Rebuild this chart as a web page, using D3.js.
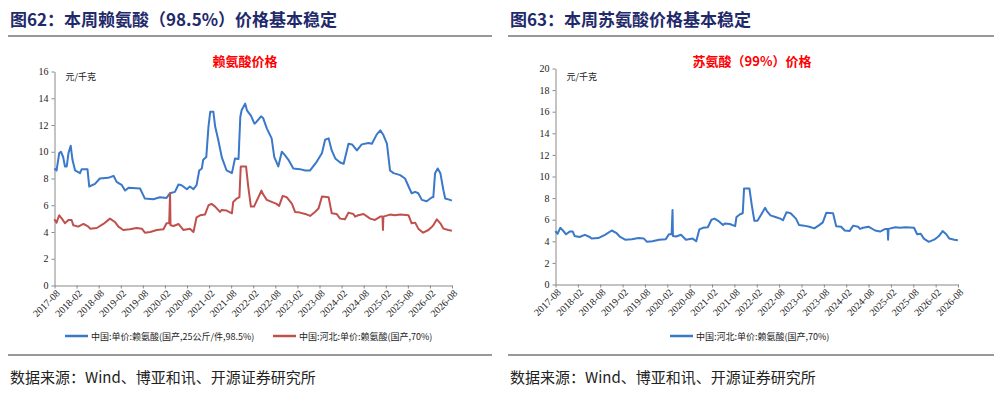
<!DOCTYPE html><html><head><meta charset="utf-8"><script src="https://cdn.jsdelivr.net/npm/d3@7"></script>
<style>body{margin:0;background:#fff}svg text{font-family:"Liberation Serif","Noto Sans CJK SC",serif}</style></head><body>
<svg id="c" width="1002" height="401"></svg>
<script>
const tickLabels=["2017-08","2018-02","2018-08","2019-02","2019-08","2020-02","2020-08","2021-02","2021-08","2022-02","2022-08","2023-02","2023-08","2024-02","2024-08","2025-02","2025-08","2026-02","2026-08"];
const lysineT=[2017.58,2017.63,2017.69,2017.73,2017.78,2017.82,2017.86,2017.90,2017.95,2017.99,2018.05,2018.16,2018.20,2018.33,2018.37,2018.50,2018.61,2018.80,2018.92,2018.99,2019.11,2019.18,2019.26,2019.52,2019.63,2019.82,2019.97,2020.12,2020.20,2020.31,2020.39,2020.46,2020.58,2020.65,2020.73,2020.80,2020.86,2020.92,2020.95,2021.02,2021.07,2021.11,2021.18,2021.22,2021.29,2021.37,2021.48,2021.60,2021.67,2021.75,2021.79,2021.82,2021.90,2021.94,2022.03,2022.11,2022.16,2022.26,2022.31,2022.39,2022.50,2022.56,2022.65,2022.73,2022.80,2022.88,2022.99,2023.14,2023.26,2023.37,2023.52,2023.64,2023.71,2023.79,2023.86,2023.94,2024.05,2024.13,2024.24,2024.32,2024.43,2024.54,2024.69,2024.77,2024.88,2024.96,2025.03,2025.11,2025.18,2025.26,2025.41,2025.52,2025.60,2025.67,2025.75,2025.82,2025.90,2026.01,2026.13,2026.16,2026.20,2026.26,2026.32,2026.39,2026.43,2026.54,2026.58];
const lysineV=[8.75,8.6,9.9,10.0,9.6,8.9,8.9,9.9,10.45,9.4,8.6,8.4,8.7,8.7,7.4,7.6,8.0,8.05,8.2,7.75,7.5,7.1,7.3,7.25,6.5,6.45,6.6,6.55,6.9,7.0,7.55,7.5,7.2,7.4,7.2,7.5,8.6,8.75,9.4,9.6,11.9,13.0,13.0,11.9,10.9,9.6,8.6,8.4,9.5,9.45,12.6,13.1,13.6,13.1,12.7,12.1,12.25,12.65,12.5,11.75,11.0,9.6,8.9,10.0,9.75,9.4,8.75,8.7,8.6,8.6,9.25,9.9,10.9,11.0,10.1,9.5,9.2,9.1,10.6,10.55,10.1,10.55,10.65,10.6,11.3,11.6,11.25,10.6,8.6,8.4,8.25,8.0,7.4,6.9,7.0,6.9,6.4,6.3,6.6,6.6,8.4,8.75,8.4,7.1,6.5,6.4,6.35];
const hebeiT=[2017.58,2017.63,2017.69,2017.75,2017.82,2017.90,2017.97,2018.01,2018.12,2018.24,2018.35,2018.39,2018.54,2018.69,2018.84,2018.95,2019.03,2019.14,2019.29,2019.44,2019.56,2019.63,2019.75,2019.90,2020.05,2020.12,2020.18,2020.20,2020.21,2020.28,2020.39,2020.50,2020.65,2020.73,2020.80,2020.88,2020.99,2021.07,2021.14,2021.22,2021.33,2021.37,2021.48,2021.60,2021.63,2021.71,2021.77,2021.80,2021.92,2021.97,2022.03,2022.10,2022.20,2022.27,2022.31,2022.39,2022.50,2022.61,2022.67,2022.75,2022.84,2022.96,2023.03,2023.14,2023.26,2023.37,2023.48,2023.56,2023.64,2023.79,2023.86,2023.97,2024.05,2024.16,2024.24,2024.35,2024.39,2024.46,2024.58,2024.73,2024.84,2024.96,2025.01,2025.02,2025.03,2025.18,2025.29,2025.41,2025.60,2025.67,2025.75,2025.82,2025.93,2026.05,2026.13,2026.16,2026.24,2026.32,2026.39,2026.50,2026.58];
const hebeiV=[4.95,4.7,5.25,5.0,4.65,4.9,4.9,4.5,4.4,4.6,4.4,4.25,4.3,4.6,5.0,4.75,4.4,4.15,4.2,4.3,4.25,3.95,4.0,4.15,4.2,4.65,4.65,6.9,4.5,4.45,4.6,4.15,4.25,4.0,5.1,5.25,5.3,6.0,6.1,5.9,5.5,5.65,5.6,5.4,6.25,6.5,6.6,8.9,8.9,7.4,5.9,5.9,6.6,7.1,6.8,6.4,6.25,6.1,5.95,6.7,6.6,6.1,5.5,5.45,5.35,5.2,5.5,5.75,6.65,6.6,5.4,5.35,5.0,4.95,5.45,5.35,5.15,5.25,5.35,5.0,4.9,5.15,5.15,4.15,5.15,5.3,5.25,5.3,5.25,4.65,4.7,4.25,3.95,4.15,4.4,4.5,4.95,4.65,4.25,4.15,4.1];
const threonineT=hebeiT, threonineV=hebeiV;

const svg=d3.select("#c");
const navy="#1f2a6b", blue="#3a78c9", red="#c0504d";
function header(x0,x1,title){
  svg.append("text").attr("x",x0+2).attr("y",26).attr("font-size",17).attr("font-weight","bold").attr("fill",navy).style("font-family","Noto Sans CJK SC").text(title);
  svg.append("line").attr("x1",x0).attr("x2",x1).attr("y1",36).attr("y2",36).attr("stroke","#333").attr("stroke-width",1);
  svg.append("line").attr("x1",x0).attr("x2",x1).attr("y1",355).attr("y2",355).attr("stroke","#333").attr("stroke-width",1);
  svg.append("text").attr("x",x0+2).attr("y",383).attr("font-size",15).attr("fill","#222").style("font-family","Noto Sans CJK SC").text("数据来源：Wind、博亚和讯、开源证券研究所");
}
header(8,492,"图62：本周赖氨酸（98.5%）价格基本稳定");
header(508,994,"图63：本周苏氨酸价格基本稳定");

function chart(o){
  const x=d3.scaleLinear().domain([2017+7/12,2026+7/12]).range([o.x0,o.x1]);
  const y=d3.scaleLinear().domain([0,o.ymax]).range([o.y0,o.y1]);
  const g=svg.append("g");
  const ya=g.append("g").attr("transform",`translate(${o.x0},0)`).call(d3.axisLeft(y).ticks(o.ymax/2).tickSize(3).tickSizeOuter(0));
  ya.selectAll("text").attr("font-size",10).attr("fill","#222").style("font-family","Liberation Serif");
  ya.select(".domain").attr("stroke","#888");ya.selectAll(".tick line").attr("stroke","#888");
  const tv=tickLabels.map((d,i)=>2017+7/12+i*0.5);
  const xa=g.append("g").attr("transform",`translate(0,${o.y0})`).call(d3.axisBottom(x).tickValues(tv).tickFormat((d,i)=>tickLabels[i]).tickSize(3).tickSizeOuter(0));
  xa.select(".domain").attr("stroke","#888");xa.selectAll(".tick line").attr("stroke","#888");
  xa.selectAll("text").attr("font-size",10).attr("fill","#222").style("font-family","Liberation Serif").attr("text-anchor","end").attr("dx","-0.2em").attr("dy","0.4em").attr("transform","rotate(-45)");
  const line=d3.line().x(d=>x(d[0])).y(d=>y(d[1]));
  o.series.forEach(s=>{
    g.append("path").datum(s.t.map((t,i)=>[t,s.v[i]])).attr("d",line).attr("fill","none").attr("stroke",s.c).attr("stroke-width",2).attr("stroke-linejoin","round");
  });
  svg.append("text").attr("x",o.tx).attr("y",66).attr("text-anchor","middle").attr("font-size",13).attr("font-weight","bold").attr("fill","#ff0000").style("font-family","Noto Sans CJK SC").text(o.title);
  svg.append("text").attr("x",o.x0+11).attr("y",80).attr("font-size",9).attr("fill","#222").style("font-family","Noto Sans CJK SC").text("元/千克");
  o.legend.forEach(l=>{
    svg.append("line").attr("x1",l.x).attr("x2",l.x+23).attr("y1",336).attr("y2",336).attr("stroke",l.c).attr("stroke-width",2.5);
    svg.append("text").attr("x",l.x+26).attr("y",339.5).attr("font-size",9).attr("fill","#222").style("font-family","Noto Sans CJK SC").text(l.t);
  });
}
chart({x0:54.5,x1:452,y0:285.5,y1:71.5,ymax:16,tx:245,title:"赖氨酸价格",
  series:[{t:lysineT,v:lysineV,c:blue},{t:hebeiT,v:hebeiV,c:red}],
  legend:[{x:65,c:blue,t:"中国:单价:赖氨酸(国产,25公斤/件,98.5%)"},{x:273,c:red,t:"中国:河北:单价:赖氨酸(国产,70%)"}]});
chart({x0:555.5,x1:958,y0:284.5,y1:68.5,ymax:20,tx:752,title:"苏氨酸（99%）价格",
  series:[{t:threonineT,v:threonineV,c:blue}],
  legend:[{x:670,c:blue,t:"中国:河北:单价:赖氨酸(国产,70%)"}]});
</script></body></html>
